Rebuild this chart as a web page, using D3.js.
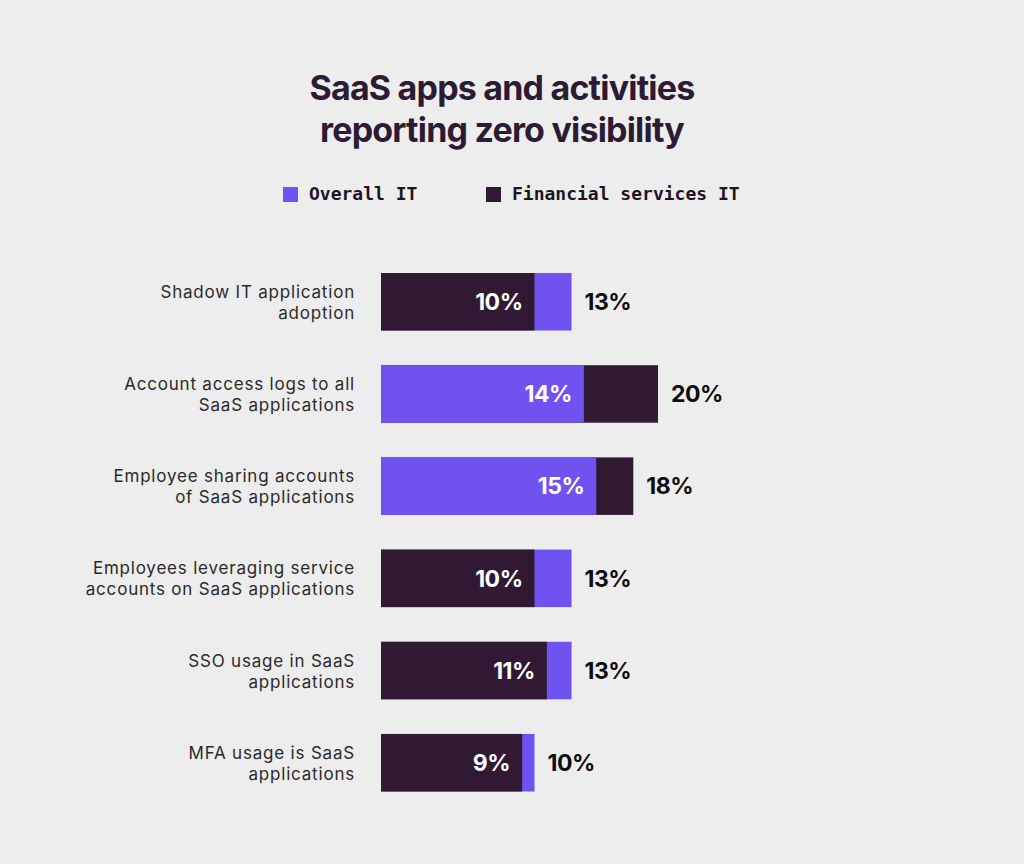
<!DOCTYPE html>
<html>
<head>
<meta charset="utf-8">
<script src="https://cdn.jsdelivr.net/npm/d3@7"></script>
<style>
  html, body { margin: 0; padding: 0; background: #ededed; }
  svg { display: block; }
</style>
</head>
<body>
<svg id="chart" width="1024" height="864"></svg>
<script>
const categories = [
  ["Shadow IT application", "adoption"],
  ["Account access logs to all", "SaaS applications"],
  ["Employee sharing accounts", "of SaaS applications"],
  ["Employees leveraging service", "accounts on SaaS applications"],
  ["SSO usage in SaaS", "applications"],
  ["MFA usage is SaaS", "applications"]
];
const overallIT = [13, 14, 15, 13, 13, 10];
const financialIT = [10, 20, 18, 10, 11, 9];
const seriesNames = ["Overall IT", "Financial services IT"];
const titleLines = ["SaaS apps and activities", "reporting zero visibility"];

const colors = { overall: "#7052f0", financial: "#311934" };
const svg = d3.select("#chart");
const W = 1024, H = 864;
svg.append("rect").attr("width", W).attr("height", H).attr("fill", "#ededed");

// Title
svg.append("g").selectAll("text").data(titleLines).join("text")
  .attr("x", 502).attr("y", (d, i) => 100 + i * 42)
  .attr("text-anchor", "middle")
  .attr("font-family", "Inter, 'Noto Sans', sans-serif")
  .attr("font-weight", 700).attr("font-size", 34)
  .attr("letter-spacing", -0.8)
  .attr("fill", "#2d1a33")
  .text(d => d);

// Legend
const legendX = [283, 486];
const legend = svg.append("g").selectAll("g").data(seriesNames).join("g")
  .attr("transform", (d, i) => `translate(${legendX[i]},187)`);
legend.append("rect").attr("width", 15).attr("height", 15)
  .attr("fill", (d, i) => i === 0 ? colors.overall : colors.financial);
legend.append("text").attr("x", 26).attr("y", 13)
  .attr("font-family", "'DejaVu Sans Mono', 'Liberation Mono', monospace")
  .attr("font-weight", 700).attr("font-size", 18)
  .attr("fill", "#1e1424")
  .text(d => d);

// Scales
const plotLeft = 381;
const x = d3.scaleLinear().domain([0, 20]).range([411, 658]);
const y = d3.scaleBand().domain(d3.range(categories.length)).range([273, 791.5]).paddingInner(0.376).paddingOuter(0);

const rows = categories.map((c, i) => ({
  lines: c, overall: overallIT[i], financial: financialIT[i]
}));

const g = svg.append("g");
const row = g.selectAll("g.row").data(rows).join("g").attr("class", "row")
  .attr("transform", (d, i) => `translate(0,${y(i)})`);

const bh = y.bandwidth();

// back (larger) bar
row.append("rect")
  .attr("x", plotLeft).attr("y", 0).attr("height", bh)
  .attr("width", d => x(Math.max(d.overall, d.financial)) - plotLeft)
  .attr("fill", d => d.overall >= d.financial ? colors.overall : colors.financial);
// front (smaller) bar
row.append("rect")
  .attr("x", plotLeft).attr("y", 0).attr("height", bh)
  .attr("width", d => x(Math.min(d.overall, d.financial)) - plotLeft)
  .attr("fill", d => d.overall < d.financial ? colors.overall : colors.financial);

// inside label
row.append("text")
  .attr("x", d => x(Math.min(d.overall, d.financial)) - 12)
  .attr("y", bh / 2).attr("dy", "0.36em")
  .attr("text-anchor", "end")
  .attr("font-family", "Inter, 'Noto Sans', sans-serif")
  .attr("font-weight", 700).attr("font-size", 23).attr("letter-spacing", -0.5)
  .attr("fill", "#ffffff")
  .text(d => Math.min(d.overall, d.financial) + "%");
// outside label
row.append("text")
  .attr("x", d => x(Math.max(d.overall, d.financial)) + 13)
  .attr("y", bh / 2).attr("dy", "0.36em")
  .attr("text-anchor", "start")
  .attr("font-family", "Inter, 'Noto Sans', sans-serif")
  .attr("font-weight", 700).attr("font-size", 23).attr("letter-spacing", -0.5)
  .attr("fill", "#0d0d0d")
  .text(d => Math.max(d.overall, d.financial) + "%");

// category labels (one text per line)
row.selectAll("text.cat").data(d => d.lines).join("text")
  .attr("class", "cat")
  .attr("text-anchor", "end")
  .attr("font-family", "Inter, 'Noto Sans', sans-serif")
  .attr("font-size", 17)
  .attr("letter-spacing", 0.8)
  .attr("fill", "#2a2a2a")
  .attr("x", 355)
  .attr("y", (l, i) => bh / 2 - 4 + i * 21)
  .text(l => l);
</script>
</body>
</html>
